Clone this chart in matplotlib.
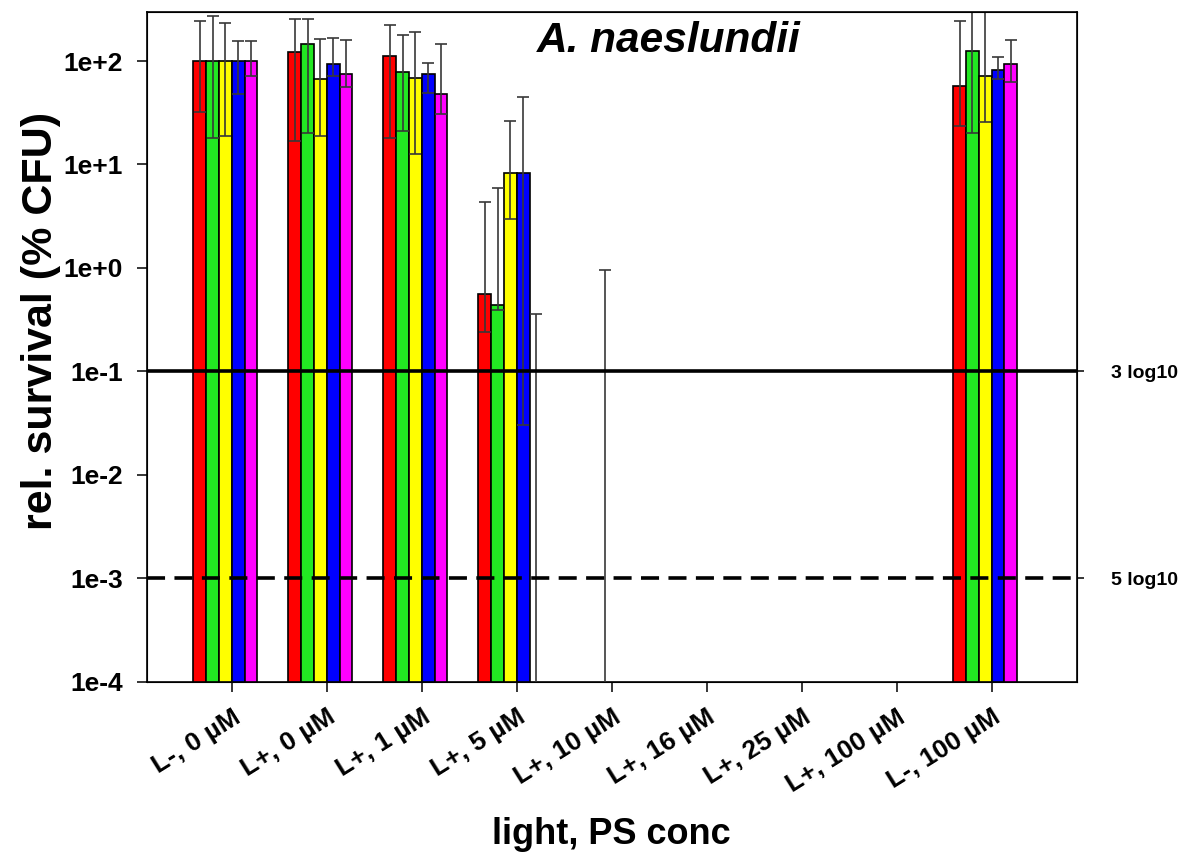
import numpy as np
import matplotlib
matplotlib.use("Agg")
from matplotlib import pyplot as plt

plt.rcParams['font.family'] = ['Liberation Sans', 'DejaVu Sans']
plt.rcParams['font.weight'] = 'bold'

nan = np.nan

categories = ['L-, 0 µM', 'L+, 0 µM', 'L+, 1 µM', 'L+, 5 µM', 'L+, 10 µM',
              'L+, 16 µM', 'L+, 25 µM', 'L+, 100 µM', 'L-, 100 µM']

# relative survival (% CFU); nan = no bar, 1e-6 = below the axis floor
red_mean = [100, 121, 113, 0.56, nan, nan, nan, nan, 57]
red_hi = [245, 255, 223, 4.35, nan, nan, nan, nan, 245]
red_lo = [32, 17, 18, 0.24, nan, nan, nan, nan, 23.5]

green_mean = [100, 146, 78, 0.435, nan, nan, nan, nan, 125]
green_hi = [273, 255, 179, 5.9, nan, nan, nan, nan, 600]
green_lo = [18, 20, 21, 0.39, nan, nan, nan, nan, 20]

yellow_mean = [100, 67, 69, 8.2, 1e-6, nan, nan, nan, 72]
yellow_hi = [232, 162, 190, 26.4, 0.95, nan, nan, nan, 500]
yellow_lo = [19, 19, 12.7, 3.0, nan, nan, nan, nan, 26]

blue_mean = [100, 93, 75, 8.3, nan, nan, nan, nan, 81]
blue_hi = [155, 168, 96, 45, nan, nan, nan, nan, 110]
blue_lo = [48, 72, 49, 0.030, nan, nan, nan, nan, 67]

magenta_mean = [100, 75, 48, 1e-6, nan, nan, nan, nan, 93]
magenta_hi = [155, 160, 145, 0.36, nan, nan, nan, nan, 160]
magenta_lo = [72, 56, 31, nan, nan, nan, nan, nan, 62]

series = [
    (red_mean, red_hi, red_lo, '#ff0000'),
    (green_mean, green_hi, green_lo, '#22e822'),
    (yellow_mean, yellow_hi, yellow_lo, '#ffff00'),
    (blue_mean, blue_hi, blue_lo, '#0000ff'),
    (magenta_mean, magenta_hi, magenta_lo, '#ff00ff'),
]

fig = plt.figure(figsize=(11.9, 8.59), dpi=100)
ax = fig.add_axes([0.1233, 0.2066, 0.7815, 0.7798])
ax.set_yscale('log')

idx = np.arange(len(categories))
w = 0.1347  # six slots per group, the sixth one left empty

for i, (mean, hi, lo, col) in enumerate(series):
    mean = np.array(mean, dtype=float)
    hi = np.array(hi, dtype=float)
    lo = np.array(lo, dtype=float)
    x = idx + (i - 2.5) * w
    ax.bar(x, np.nan_to_num(mean), width=w, color=col, edgecolor='black',
           linewidth=1.2, zorder=2)
    err_up = np.nan_to_num(hi - mean)
    err_dn = np.nan_to_num(mean - lo)
    ok = ~np.isnan(hi)
    ax.errorbar(x[ok], mean[ok], yerr=[err_dn[ok], err_up[ok]], fmt='none',
                ecolor='#383838', elinewidth=1.2, capsize=4.5, capthick=1.2,
                zorder=3)

# 3 log10 and 5 log10 reduction levels
ax.axhline(0.1, color='black', lw=2.6, zorder=4)
ax.axhline(1e-3, color='black', lw=2.6, ls=(0, (5, 2.6)), zorder=4)

ax.set_xlim(-0.895, 8.895)
ax.set_ylim(1e-4, 300)

yt = [1e-4, 1e-3, 1e-2, 1e-1, 1e0, 1e1, 1e2]
ax.set_yticks(yt)
ax.set_yticklabels(['1e-4', '1e-3', '1e-2', '1e-1', '1e+0', '1e+1', '1e+2'],
                   fontsize=19, fontweight='bold')
ax.minorticks_off()
ax.set_xticks(idx)
ax.set_xticklabels(categories, rotation=32, ha='right', rotation_mode='anchor',
                   fontsize=19, fontweight='bold')
ax.tick_params(axis='y', direction='out', length=7, width=1.1, pad=10)
ax.tick_params(axis='x', direction='out', length=7, width=1.1, pad=10)
for s in ax.spines.values():
    s.set_linewidth(1.2)

ax2 = ax.twinx()
ax2.set_yscale('log')
ax2.set_ylim(ax.get_ylim())
ax2.set_yticks([0.1, 1e-3])
ax2.set_yticklabels(['3 log10', '5 log10'], fontsize=14, fontweight='bold')
ax2.minorticks_off()
ax2.tick_params(axis='y', direction='out', length=5, width=1.1, pad=20)

ax.text(0.5616, 0.9403, 'A. naeslundii', transform=ax.transAxes,
        ha='center', va='baseline', fontsize=30.5, fontweight='bold',
        fontstyle='italic')

fig.text(41 / 1190, 1 - 321 / 859, 'rel. survival (% CFU)', rotation=90,
         ha='center', va='center', fontsize=31, fontweight='bold')
fig.text(611.7 / 1190, 1 - 834 / 859, 'light, PS conc',
         ha='center', va='center', fontsize=26, fontweight='bold')

fig.savefig('out.png', dpi=100)
